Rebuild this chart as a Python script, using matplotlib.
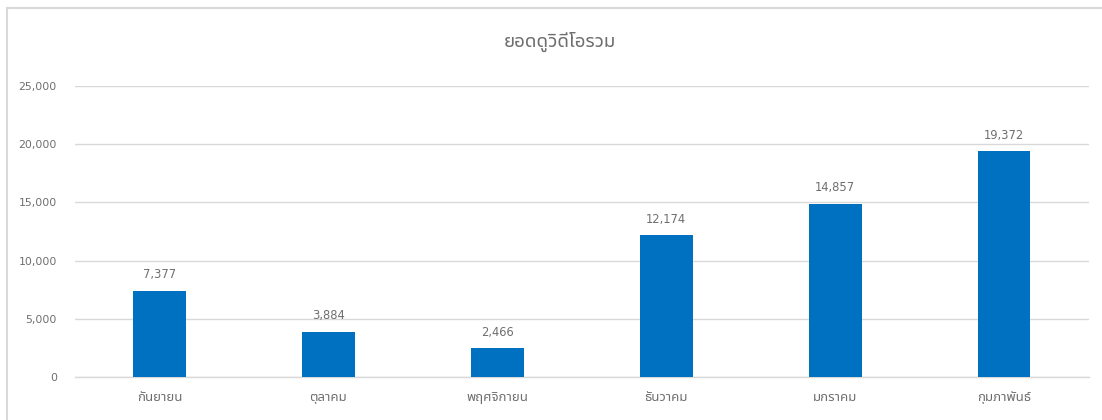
import matplotlib

matplotlib.use("Agg")
import matplotlib.pyplot as plt
from matplotlib.lines import Line2D
from matplotlib.ticker import FuncFormatter

months = ["กันยายน", "ตุลาคม", "พฤศจิกายน", "ธันวาคม", "มกราคม", "กุมภาพันธ์"]
views = [7377, 3884, 2466, 12174, 14857, 19372]
y_ticks = [0, 5000, 10000, 15000, 20000, 25000]

plt.rcParams["font.family"] = ["Noto Sans Thai UI", "DejaVu Sans"]
text_color = "#6e6e6e"
grid_color = "#d9d9d9"

fig = plt.figure(figsize=(11.02, 4.2), dpi=100)
ax = fig.add_axes([0.068, 0.1024, 0.920, 0.693])

x = range(len(months))
bars = ax.bar(x, views, width=0.31, color="#0070c0", zorder=3)

for bar, v in zip(bars, views):
    ax.annotate(f"{v:,}", (bar.get_x() + bar.get_width() / 2, v),
                xytext=(0, 7), textcoords="offset points",
                ha="center", va="bottom", fontsize=8.3, color=text_color)

ax.set_xlim(-0.5, len(months) - 0.5)
ax.set_ylim(0, 25000)
ax.set_yticks(y_ticks)
ax.yaxis.set_major_formatter(FuncFormatter(lambda v, _: f"{int(v):,}"))
ax.set_xticks(list(x))
ax.set_xticklabels(months, family=["Noto Sans Thai", "DejaVu Sans"], fontsize=9.5)
ax.tick_params(axis="both", length=0, labelcolor=text_color)
ax.tick_params(axis="y", pad=13, labelsize=7.8)
ax.tick_params(axis="x", pad=10)

ax.grid(axis="y", color=grid_color, linewidth=1, zorder=0)
for side in ["top", "right", "left"]:
    ax.spines[side].set_visible(False)
ax.spines["bottom"].set_color(grid_color)
ax.spines["bottom"].set_linewidth(1)

fig.text(0.508, 0.90, "ยอดดูวิดีโอรวม", ha="center", va="center",
         fontsize=13.5, color=text_color)

# chart border, only left and top edges show in the crop
fig.add_artist(Line2D([7 / 1102, 7 / 1102], [0, 1 - 8 / 420],
                      transform=fig.transFigure, color=grid_color, linewidth=1.5))
fig.add_artist(Line2D([7 / 1102, 1], [1 - 8 / 420, 1 - 8 / 420],
                      transform=fig.transFigure, color=grid_color, linewidth=1.5))

fig.savefig("out.png", dpi=100)
